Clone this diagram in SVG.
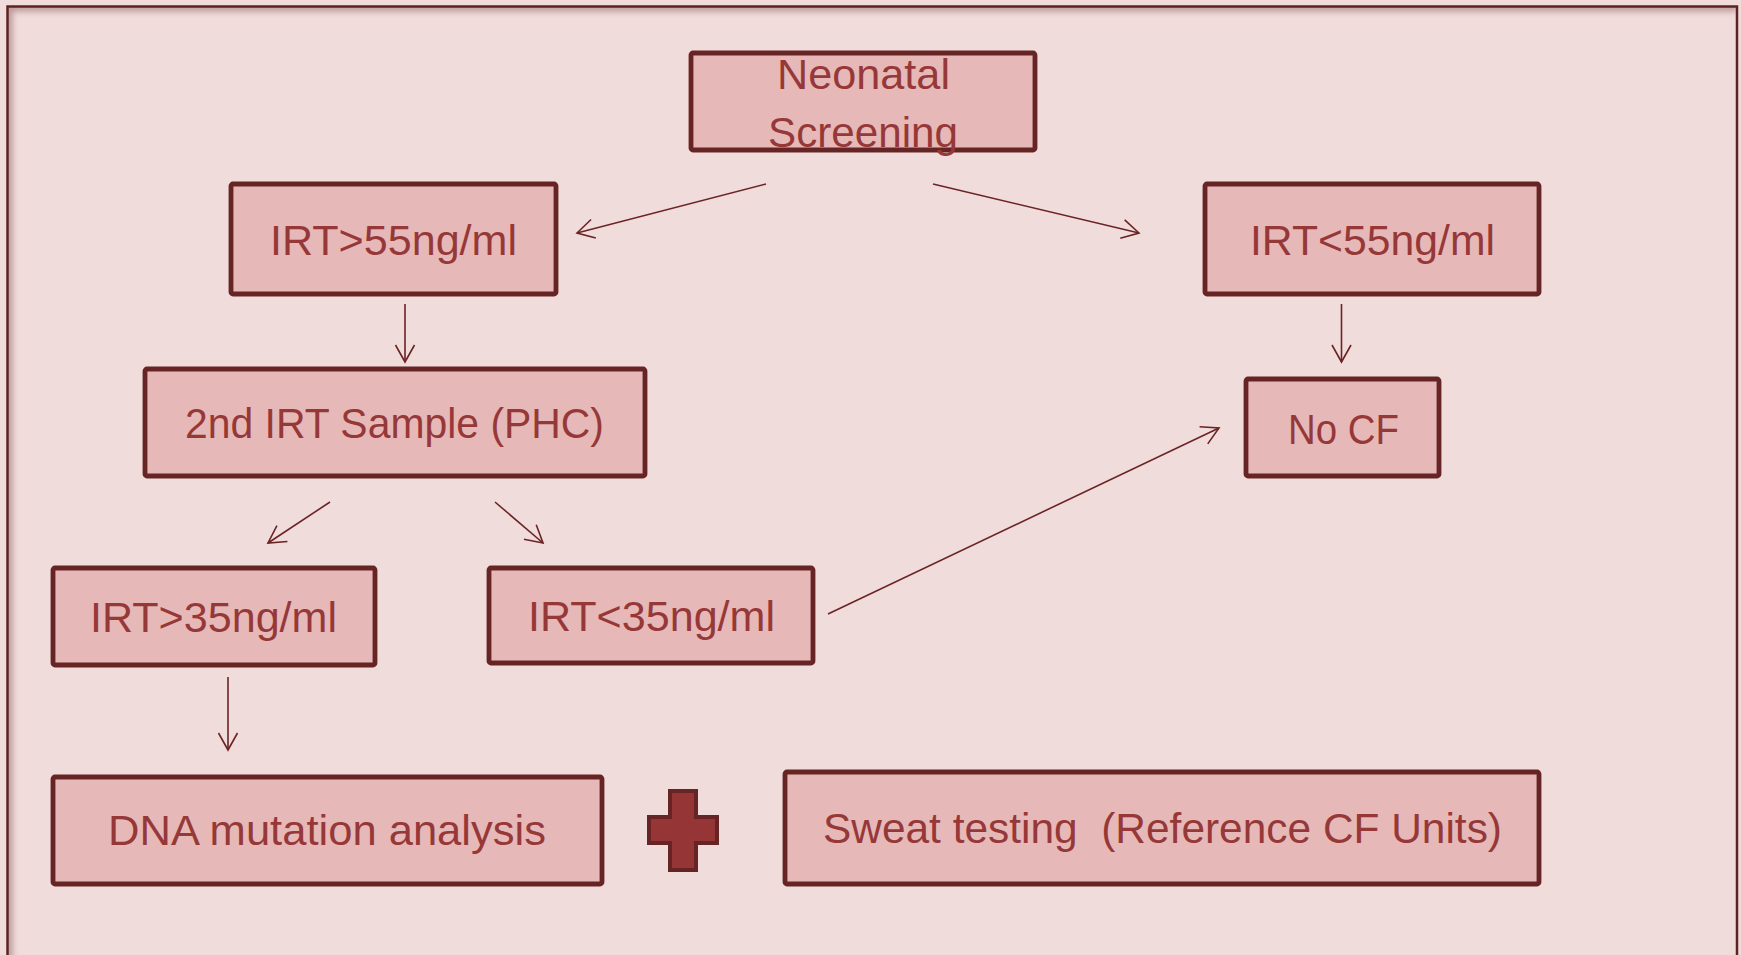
<svg xmlns="http://www.w3.org/2000/svg" width="1741" height="955" viewBox="0 0 1741 955">
  <defs>
    <style>
      .node rect { fill: #e6b8b8; stroke: #672424; stroke-width: 4.8; }
      .node text { font-family: "Liberation Sans", Arial, sans-serif; font-size: 43px; fill: #973838; text-anchor: start; }
      .conn line { stroke: #6a2424; stroke-width: 1.6; fill: none; marker-end: url(#arr); }
    </style>
    <marker id="arr" markerUnits="userSpaceOnUse" markerWidth="24" markerHeight="24" viewBox="-20 -12 22 24" refX="0" refY="0" orient="auto">
      <path d="M-17,-9.5 L0,0 L-17,9.5" fill="none" stroke="#6a2424" stroke-width="1.6"/>
    </marker>
    <filter id="blur" x="-10%" y="-10%" width="120%" height="120%">
      <feGaussianBlur stdDeviation="3"/>
    </filter>
    <clipPath id="inner">
      <rect x="8" y="7" width="1728" height="960"/>
    </clipPath>
  </defs>

  <rect x="0" y="0" width="1741" height="955" fill="#f1dcdc"/>

  <!-- frame -->
  <g id="frame">
    <g clip-path="url(#inner)">
      <path d="M8,980 L8,7 L1737,7" fill="none" stroke="#a88484" stroke-width="9" filter="url(#blur)" opacity="0.75"/>
    </g>
    <path d="M7.5,980 L7.5,6.5 L1737,6.5 L1737,980" fill="none" stroke="#5e2222" stroke-width="2.5"/>
  </g>

  <!-- connectors -->
  <g id="connectors" class="conn">
    <line x1="766" y1="184" x2="577" y2="233"/>
    <line x1="933" y1="184" x2="1139" y2="233"/>
    <line x1="405" y1="304" x2="405" y2="362"/>
    <line x1="1341.5" y1="304" x2="1341.5" y2="362"/>
    <line x1="330" y1="502" x2="268" y2="543"/>
    <line x1="495" y1="502" x2="543" y2="543"/>
    <line x1="828" y1="614" x2="1219" y2="428"/>
    <line x1="228" y1="677" x2="228" y2="750"/>
  </g>

  <!-- nodes -->
  <g id="neonatal" class="node">
    <rect x="691" y="53" width="344" height="97" rx="2"/>
    <text x="777" y="89" textLength="173" lengthAdjust="spacingAndGlyphs">Neonatal</text>
    <text x="768" y="147" textLength="190" lengthAdjust="spacingAndGlyphs">Screening</text>
  </g>

  <g id="irt-gt-55" class="node">
    <rect x="231" y="184" width="325" height="110" rx="2"/>
    <text x="270" y="255" textLength="247" lengthAdjust="spacingAndGlyphs">IRT&gt;55ng/ml</text>
  </g>

  <g id="irt-lt-55" class="node">
    <rect x="1205" y="184" width="334" height="110" rx="2"/>
    <text x="1250" y="255" textLength="245" lengthAdjust="spacingAndGlyphs">IRT&lt;55ng/ml</text>
  </g>

  <g id="second-irt" class="node">
    <rect x="145" y="369" width="500" height="107" rx="2"/>
    <text x="185" y="438" textLength="419" lengthAdjust="spacingAndGlyphs">2nd IRT Sample (PHC)</text>
  </g>

  <g id="no-cf" class="node">
    <rect x="1246" y="379" width="193" height="97" rx="2"/>
    <text x="1288" y="444" textLength="111" lengthAdjust="spacingAndGlyphs">No CF</text>
  </g>

  <g id="irt-gt-35" class="node">
    <rect x="53" y="568" width="322" height="97" rx="2"/>
    <text x="90" y="632" textLength="247" lengthAdjust="spacingAndGlyphs">IRT&gt;35ng/ml</text>
  </g>

  <g id="irt-lt-35" class="node">
    <rect x="489" y="568" width="324" height="95" rx="2"/>
    <text x="528" y="631" textLength="247" lengthAdjust="spacingAndGlyphs">IRT&lt;35ng/ml</text>
  </g>

  <g id="dna" class="node">
    <rect x="53" y="777" width="549" height="107" rx="2"/>
    <text x="108" y="845" textLength="438" lengthAdjust="spacingAndGlyphs">DNA mutation analysis</text>
  </g>

  <g id="plus">
    <path d="M670,791 L696,791 L696,817 L717,817 L717,843 L696,843 L696,870 L670,870 L670,843 L649,843 L649,817 L670,817 Z" fill="#963535" stroke="#672424" stroke-width="4"/>
  </g>

  <g id="sweat" class="node">
    <rect x="785" y="772" width="754" height="112" rx="2"/>
    <text x="823" y="843" textLength="679" lengthAdjust="spacingAndGlyphs" xml:space="preserve">Sweat testing  (Reference CF Units)</text>
  </g>
</svg>
